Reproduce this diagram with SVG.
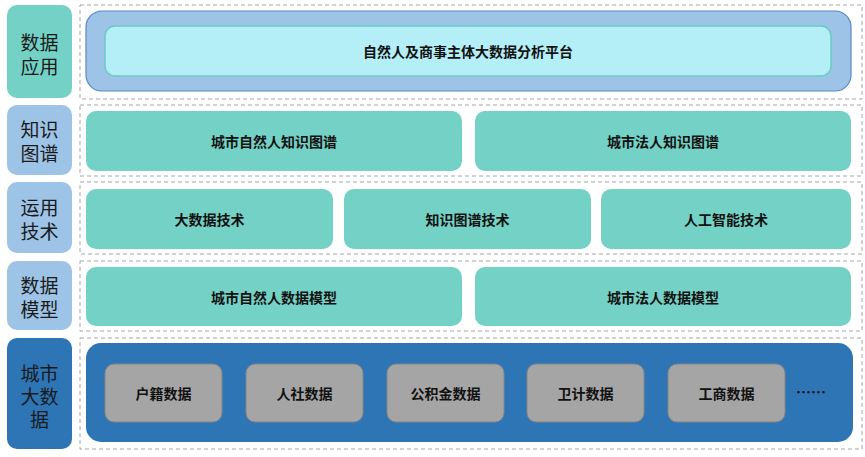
<svg xmlns="http://www.w3.org/2000/svg" width="865" height="457" viewBox="0 0 865 457">
<style>
.lbl{font-family:"Liberation Sans","Noto Sans CJK SC",sans-serif;font-size:19px;fill:#1a1a1a;text-anchor:middle;dominant-baseline:central}
.t{font-family:"Noto Sans CJK SC","Noto Sans",sans-serif;font-size:14px;font-weight:bold;fill:#111;text-anchor:middle;dominant-baseline:central}
.dash{fill:none;stroke:#A6A6A6;stroke-width:1;stroke-dasharray:4 3}
.teal{fill:#74D1C5}
.lb{fill:#9DC3E6}
.gray{fill:#A5A5A5;stroke:#858585;stroke-width:1}
</style>
<rect width="865" height="457" fill="#fff"/>
<g id="layers">
<rect class="dash" x="80" y="5" width="782" height="94"/>
<rect class="dash" x="80" y="105" width="782" height="71"/>
<rect class="dash" x="80" y="182" width="782" height="72"/>
<rect class="dash" x="80" y="261" width="782" height="70"/>
<rect class="dash" x="80" y="338" width="782" height="111"/>
</g>
<g id="label-app"><rect x="7" y="5" width="65" height="93" rx="10" class="teal"/><text class="lbl" x="39.5" y="43">数据<tspan x="39.5" dy="24">应用</tspan></text></g>
<g id="label-kg"><rect x="7" y="105" width="65" height="70" rx="10" class="lb"/><text class="lbl" x="39.5" y="130">知识<tspan x="39.5" dy="24">图谱</tspan></text></g>
<g id="label-tech"><rect x="7" y="182" width="65" height="71" rx="10" class="lb"/><text class="lbl" x="39.5" y="208">运用<tspan x="39.5" dy="24">技术</tspan></text></g>
<g id="label-model"><rect x="7" y="261" width="65" height="69" rx="10" class="lb"/><text class="lbl" x="39.5" y="286">数据<tspan x="39.5" dy="24">模型</tspan></text></g>
<g id="label-bigdata"><rect x="7" y="338" width="65" height="111" rx="10" fill="#2E75B6"/><text class="lbl" x="39.5" y="374">城市<tspan x="39.5" dy="23">大数</tspan><tspan x="39.5" dy="23">据</tspan></text></g>
<g id="platform">
<rect x="86" y="11" width="765" height="80" rx="16" fill="#9DC3E6" stroke="#5B86C8" stroke-width="1.2"/>
<rect x="105" y="26" width="726" height="50" rx="10" fill="#B4EEF6" stroke="#6CCBC4" stroke-width="1.5"/>
<text class="t" x="468" y="51">自然人及商事主体大数据分析平台</text>
</g>
<g id="kg-person"><rect x="86" y="111" width="376" height="60" rx="10" class="teal"/><text class="t" x="274" y="141">城市自然人知识图谱</text></g>
<g id="kg-corp"><rect x="475" y="111" width="376" height="60" rx="10" class="teal"/><text class="t" x="663" y="141">城市法人知识图谱</text></g>
<g id="tech-bigdata"><rect x="86" y="189" width="247" height="60" rx="10" class="teal"/><text class="t" x="209.5" y="219">大数据技术</text></g>
<g id="tech-kg"><rect x="344" y="189" width="247" height="60" rx="10" class="teal"/><text class="t" x="467.5" y="219">知识图谱技术</text></g>
<g id="tech-ai"><rect x="601" y="189" width="250" height="60" rx="10" class="teal"/><text class="t" x="726" y="219">人工智能技术</text></g>
<g id="model-person"><rect x="86" y="267" width="376" height="59" rx="10" class="teal"/><text class="t" x="274" y="296.5">城市自然人数据模型</text></g>
<g id="model-corp"><rect x="475" y="267" width="376" height="59" rx="10" class="teal"/><text class="t" x="663" y="296.5">城市法人数据模型</text></g>
<g id="bigdata">
<rect x="86" y="343" width="767" height="99" rx="15" fill="#2E75B6"/>
<g id="d1"><rect class="gray" x="105" y="364" width="117" height="58" rx="9"/><text class="t" x="163.5" y="393">户籍数据</text></g>
<g id="d2"><rect class="gray" x="246" y="364" width="117" height="58" rx="9"/><text class="t" x="304.5" y="393">人社数据</text></g>
<g id="d3"><rect class="gray" x="387" y="364" width="117" height="58" rx="9"/><text class="t" x="445.5" y="393">公积金数据</text></g>
<g id="d4"><rect class="gray" x="527" y="364" width="117" height="58" rx="9"/><text class="t" x="585.5" y="393">卫计数据</text></g>
<g id="d5"><rect class="gray" x="668" y="364" width="117" height="58" rx="9"/><text class="t" x="726.5" y="393">工商数据</text></g>
<text class="t" x="811" y="391" style="font-size:15px">……</text>
</g>
<g id="connectors"></g>
</svg>
